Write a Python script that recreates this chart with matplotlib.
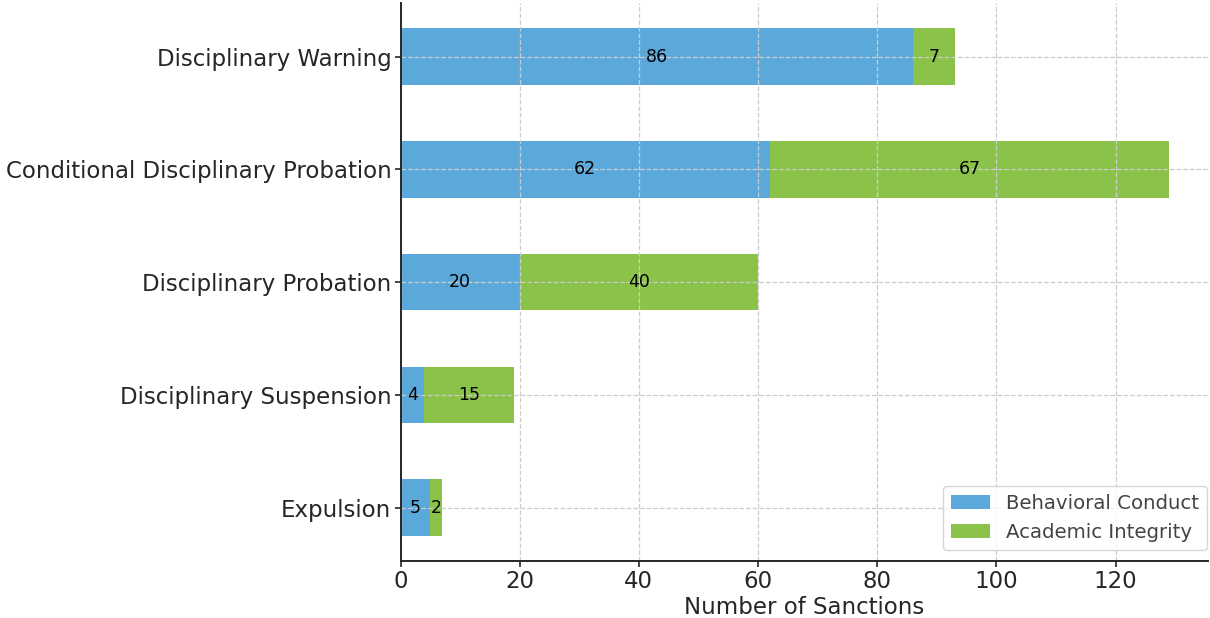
import numpy as np
import matplotlib
matplotlib.use('Agg')
import matplotlib.pyplot as plt

categories = ['Expulsion', 'Disciplinary Suspension', 'Disciplinary Probation',
              'Conditional Disciplinary Probation', 'Disciplinary Warning']
behavioral = [5, 4, 20, 62, 86]
academic = [2, 15, 40, 67, 7]

blue = '#5BA9DB'
green = '#8BC34A'
text_color = '#262626'

fig = plt.figure(figsize=(12.1, 6.18), dpi=100)
ax = fig.add_axes([0.331, 0.092, 0.667, 0.903])

y = np.arange(len(categories))
b1 = ax.barh(y, behavioral, height=0.5, color=blue, label='Behavioral Conduct')
b2 = ax.barh(y, academic, height=0.5, left=behavioral, color=green, label='Academic Integrity')

# value labels in the middle of each segment
for bars in (b1, b2):
    for bar in bars:
        w = bar.get_width()
        ax.text(bar.get_x() + w / 2, bar.get_y() + bar.get_height() / 2, '{:d}'.format(int(w)),
                ha='center', va='center', fontsize=12.5, color='black')

ax.set_yticks(y)
ax.set_yticklabels(categories)
ax.tick_params(axis='both', labelsize=16.5, colors=text_color, length=4, width=1.2, pad=2.5)
ax.set_xlabel('Number of Sanctions', fontsize=16.5, color=text_color, labelpad=2)

ax.grid(True, linestyle='--', color='#cccccc', linewidth=0.9)
ax.set_axisbelow(False)
for side in ('top', 'right'):
    ax.spines[side].set_visible(False)
for side in ('left', 'bottom'):
    ax.spines[side].set_color(text_color)
    ax.spines[side].set_linewidth(1.4)
    ax.spines[side].set_zorder(4)

leg = ax.legend(loc='lower right', bbox_to_anchor=(0.999, 0.02), borderaxespad=0,
                fontsize=14.2, labelcolor='#444444')
leg.get_frame().set_edgecolor('#cccccc')

fig.savefig('out.png', dpi=100)
